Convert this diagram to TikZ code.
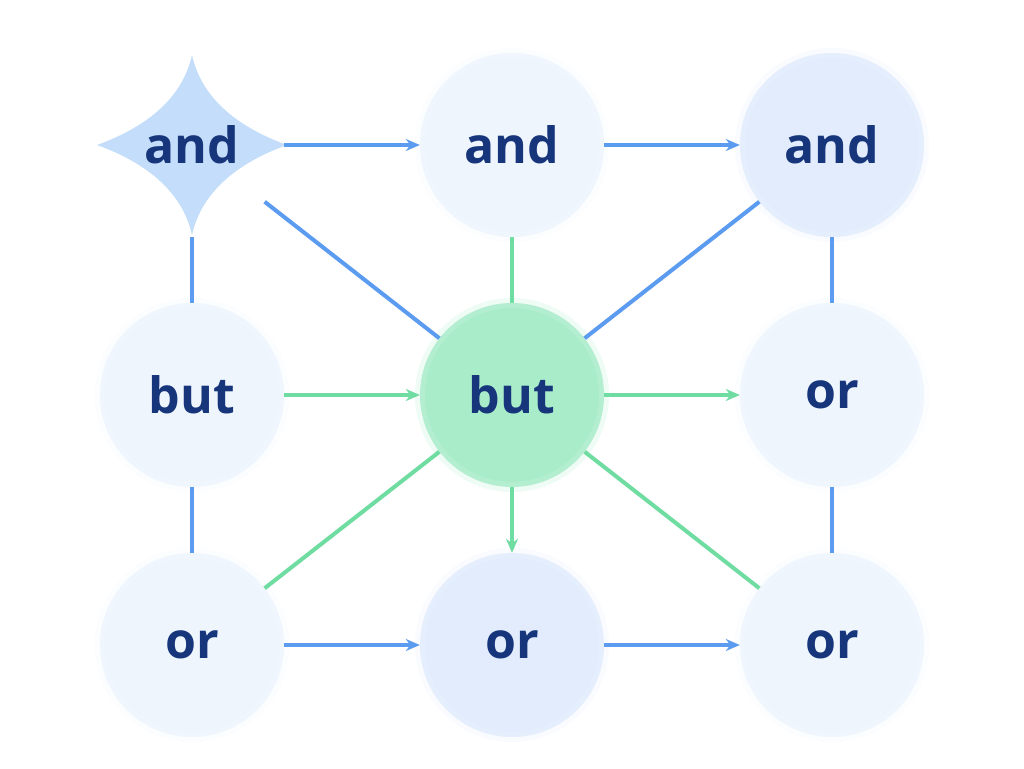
\documentclass[tikz,border=0pt]{standalone}
\usepackage{fontspec}
\setmainfont{Open Sans}
\usetikzlibrary{arrows.meta}
\definecolor{bl}{HTML}{5B9BF0}
\definecolor{gr}{HTML}{6FDCA2}
\definecolor{txt}{HTML}{17357A}
\definecolor{pale}{HTML}{EEF5FD}
\definecolor{mid}{HTML}{E2ECFC}
\definecolor{cen}{HTML}{A9ECCA}
\definecolor{star}{HTML}{C4DDFA}
\begin{document}
\begin{tikzpicture}[x=1pt,y=-1pt,
  nd/.style={circle,minimum size=184pt,inner sep=0pt,font=\fontsize{50}{50}\selectfont\bfseries,text=txt},
  halo/.style={fill=#1,draw=#1!60,line width=10pt,draw opacity=0.3},
  bline/.style={bl,line width=4pt},
  gline/.style={gr,line width=4pt},
  arr/.style={-{Stealth[length=14pt,width=12pt]}}]
\useasboundingbox (0,0) rectangle (1024,768);
\fill[white] (0,0) rectangle (1024,768);
% backgrounds
\foreach \x/\y/\c in {512/145/pale,832/145/mid,192/395/pale,832/395/pale,192/645/pale,512/645/mid,832/645/pale}
  \filldraw[halo=\c] (\x,\y) circle (92);
\filldraw[halo=cen] (512,395) circle (92);
\fill[star] (192,55) .. controls (202,100) and (240,128) .. (287,145)
  .. controls (240,162) and (202,190) .. (192,235)
  .. controls (182,190) and (144,162) .. (97,145)
  .. controls (144,128) and (182,100) .. (192,55) -- cycle;
% nodes
\node[nd] (a1) at (192,145) {and};
\node[nd] (a2) at (512,145) {and};
\node[nd] (a3) at (832,145) {and};
\node[nd] (b1) at (192,395) {but};
\node[nd] (b2) at (512,395) {but};
\node[nd] (b3) at (832,395) {or};
\node[nd] (c1) at (192,645) {or};
\node[nd] (c2) at (512,645) {or};
\node[nd] (c3) at (832,645) {or};
% edges
\draw[bline,arr] (a1) -- (a2);
\draw[bline,arr] (a2) -- (a3);
\draw[bline] (a1) -- (b1);
\draw[bline] (a1) -- (b2);
\draw[gline] (a2) -- (b2);
\draw[bline] (a3) -- (b2);
\draw[bline] (a3) -- (b3);
\draw[gline,arr] (b1) -- (b2);
\draw[gline,arr] (b2) -- (b3);
\draw[bline] (b1) -- (c1);
\draw[gline] (b2) -- (c1);
\draw[gline,arr] (b2) -- (c2);
\draw[gline] (b2) -- (c3);
\draw[bline] (b3) -- (c3);
\draw[bline,arr] (c1) -- (c2);
\draw[bline,arr] (c2) -- (c3);
\end{tikzpicture}
\end{document}
